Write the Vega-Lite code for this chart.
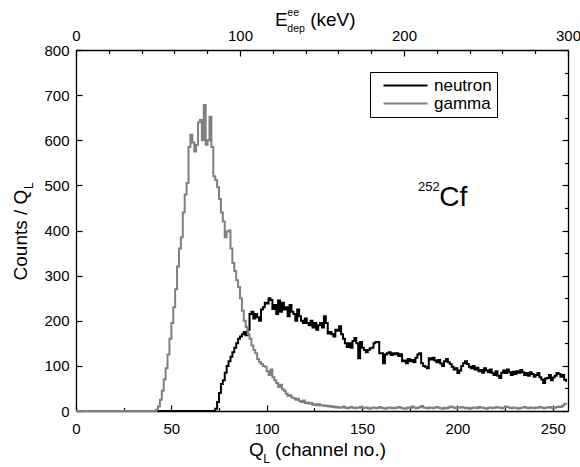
{
"$schema":"https://vega.github.io/schema/vega-lite/v6.json",
"width":492,"height":361,
"autosize":{"type":"none"},
"padding":{"left":76,"top":50,"right":12,"bottom":56},
"background":"white",
"config":{"view":{"stroke":null},"font":"Liberation Sans","axis":{"grid":false,"domainColor":"black","tickColor":"black","labelColor":"black","labelFont":"Liberation Sans","labelFontSize":15,"domainWidth":1.3,"tickWidth":1.2,"labelFlush":false,"labelOverlap":false,"title":null}},
"layer":[
{"data":{"values":[
{"ch":0,"neutron":0,"gamma":0},
{"ch":40,"neutron":0,"gamma":0},{"ch":41,"neutron":0,"gamma":0},{"ch":42,"neutron":0,"gamma":3},{"ch":43,"neutron":0,"gamma":10},{"ch":44,"neutron":0,"gamma":25},{"ch":45,"neutron":0,"gamma":45},{"ch":46,"neutron":0,"gamma":70},{"ch":47,"neutron":0,"gamma":95},{"ch":48,"neutron":0,"gamma":125},{"ch":49,"neutron":0,"gamma":160},
{"ch":50,"neutron":0,"gamma":195},{"ch":51,"neutron":0,"gamma":230},{"ch":52,"neutron":0,"gamma":270},{"ch":53,"neutron":0,"gamma":320},{"ch":54,"neutron":0,"gamma":360},{"ch":55,"neutron":0,"gamma":385},{"ch":56,"neutron":0,"gamma":440},{"ch":57,"neutron":0,"gamma":480},{"ch":58,"neutron":0,"gamma":505},{"ch":59,"neutron":0,"gamma":585},
{"ch":60,"neutron":0,"gamma":612},{"ch":61,"neutron":0,"gamma":595},{"ch":62,"neutron":0,"gamma":575},{"ch":63,"neutron":0,"gamma":590},{"ch":64,"neutron":0,"gamma":640},{"ch":65,"neutron":0,"gamma":645},{"ch":66,"neutron":0,"gamma":600},{"ch":67,"neutron":0,"gamma":678},{"ch":68,"neutron":0,"gamma":590},{"ch":69,"neutron":0,"gamma":600},
{"ch":70,"neutron":0,"gamma":652},{"ch":71,"neutron":0,"gamma":585},{"ch":72,"neutron":0,"gamma":520},{"ch":73,"neutron":5,"gamma":512},{"ch":74,"neutron":20,"gamma":496},{"ch":75,"neutron":40,"gamma":470},{"ch":76,"neutron":60,"gamma":440},{"ch":77,"neutron":68,"gamma":420},{"ch":78,"neutron":85,"gamma":385},{"ch":79,"neutron":100,"gamma":398},
{"ch":80,"neutron":110,"gamma":400},{"ch":81,"neutron":120,"gamma":360},{"ch":82,"neutron":130,"gamma":328},{"ch":83,"neutron":140,"gamma":310},{"ch":84,"neutron":150,"gamma":290},{"ch":85,"neutron":160,"gamma":275},{"ch":86,"neutron":165,"gamma":250},{"ch":87,"neutron":170,"gamma":222},{"ch":88,"neutron":175,"gamma":200},{"ch":89,"neutron":168,"gamma":186},
{"ch":90,"neutron":180,"gamma":170},{"ch":91,"neutron":215,"gamma":160},{"ch":92,"neutron":220,"gamma":145},{"ch":93,"neutron":205,"gamma":135},{"ch":94,"neutron":215,"gamma":128},{"ch":95,"neutron":208,"gamma":115},{"ch":96,"neutron":200,"gamma":108},{"ch":97,"neutron":225,"gamma":104},{"ch":98,"neutron":230,"gamma":100},{"ch":99,"neutron":240,"gamma":98},
{"ch":100,"neutron":238,"gamma":88},{"ch":101,"neutron":250,"gamma":80},{"ch":102,"neutron":246,"gamma":92},{"ch":103,"neutron":226,"gamma":75},{"ch":104,"neutron":235,"gamma":68},{"ch":105,"neutron":215,"gamma":62},{"ch":106,"neutron":245,"gamma":53},{"ch":107,"neutron":220,"gamma":58},{"ch":108,"neutron":240,"gamma":48},{"ch":109,"neutron":225,"gamma":45},
{"ch":110,"neutron":230,"gamma":38},{"ch":111,"neutron":210,"gamma":33},{"ch":112,"neutron":235,"gamma":35},{"ch":113,"neutron":220,"gamma":30},{"ch":114,"neutron":215,"gamma":28},{"ch":115,"neutron":200,"gamma":25},{"ch":116,"neutron":225,"gamma":27},{"ch":117,"neutron":210,"gamma":22},{"ch":118,"neutron":200,"gamma":20},{"ch":119,"neutron":195,"gamma":23},
{"ch":120,"neutron":205,"gamma":18},{"ch":121,"neutron":195,"gamma":19},{"ch":122,"neutron":190,"gamma":16},{"ch":123,"neutron":200,"gamma":18},{"ch":124,"neutron":185,"gamma":14},{"ch":125,"neutron":195,"gamma":15},{"ch":126,"neutron":180,"gamma":13},{"ch":127,"neutron":190,"gamma":15},{"ch":128,"neutron":195,"gamma":12},{"ch":129,"neutron":185,"gamma":13},
{"ch":130,"neutron":210,"gamma":11},{"ch":131,"neutron":195,"gamma":12},{"ch":132,"neutron":172,"gamma":10},{"ch":133,"neutron":175,"gamma":11},{"ch":134,"neutron":170,"gamma":9},{"ch":135,"neutron":165,"gamma":10},{"ch":136,"neutron":180,"gamma":8},{"ch":137,"neutron":178,"gamma":9},{"ch":138,"neutron":188,"gamma":7},{"ch":139,"neutron":170,"gamma":8},
{"ch":140,"neutron":160,"gamma":10},{"ch":141,"neutron":150,"gamma":7},{"ch":142,"neutron":142,"gamma":6},{"ch":143,"neutron":150,"gamma":8},{"ch":144,"neutron":140,"gamma":9},{"ch":145,"neutron":155,"gamma":7},{"ch":146,"neutron":162,"gamma":6},{"ch":147,"neutron":150,"gamma":8},{"ch":148,"neutron":117,"gamma":7},{"ch":149,"neutron":153,"gamma":9},
{"ch":150,"neutron":140,"gamma":6},{"ch":151,"neutron":135,"gamma":7},{"ch":152,"neutron":130,"gamma":8},{"ch":153,"neutron":135,"gamma":6},{"ch":154,"neutron":139,"gamma":5},{"ch":155,"neutron":140,"gamma":7},{"ch":156,"neutron":150,"gamma":8},{"ch":157,"neutron":153,"gamma":6},{"ch":158,"neutron":153,"gamma":7},{"ch":159,"neutron":128,"gamma":9},
{"ch":160,"neutron":128,"gamma":7},{"ch":161,"neutron":106,"gamma":6},{"ch":162,"neutron":125,"gamma":5},{"ch":163,"neutron":128,"gamma":7},{"ch":164,"neutron":130,"gamma":8},{"ch":165,"neutron":124,"gamma":6},{"ch":166,"neutron":128,"gamma":7},{"ch":167,"neutron":126,"gamma":6},{"ch":168,"neutron":128,"gamma":8},{"ch":169,"neutron":122,"gamma":9},
{"ch":170,"neutron":126,"gamma":7},{"ch":171,"neutron":110,"gamma":6},{"ch":172,"neutron":112,"gamma":5},{"ch":173,"neutron":106,"gamma":6},{"ch":174,"neutron":115,"gamma":8},{"ch":175,"neutron":110,"gamma":7},{"ch":176,"neutron":113,"gamma":10},{"ch":177,"neutron":108,"gamma":8},{"ch":178,"neutron":118,"gamma":6},{"ch":179,"neutron":125,"gamma":7},
{"ch":180,"neutron":128,"gamma":9},{"ch":181,"neutron":106,"gamma":11},{"ch":182,"neutron":100,"gamma":8},{"ch":183,"neutron":98,"gamma":7},{"ch":184,"neutron":95,"gamma":6},{"ch":185,"neutron":117,"gamma":8},{"ch":186,"neutron":114,"gamma":7},{"ch":187,"neutron":118,"gamma":6},{"ch":188,"neutron":112,"gamma":8},{"ch":189,"neutron":108,"gamma":9},
{"ch":190,"neutron":113,"gamma":7},{"ch":191,"neutron":105,"gamma":6},{"ch":192,"neutron":100,"gamma":5},{"ch":193,"neutron":110,"gamma":7},{"ch":194,"neutron":115,"gamma":6},{"ch":195,"neutron":108,"gamma":8},{"ch":196,"neutron":104,"gamma":10},{"ch":197,"neutron":98,"gamma":9},{"ch":198,"neutron":92,"gamma":7},{"ch":199,"neutron":95,"gamma":6},
{"ch":200,"neutron":84,"gamma":8},{"ch":201,"neutron":90,"gamma":7},{"ch":202,"neutron":100,"gamma":9},{"ch":203,"neutron":106,"gamma":8},{"ch":204,"neutron":110,"gamma":6},{"ch":205,"neutron":104,"gamma":7},{"ch":206,"neutron":98,"gamma":5},{"ch":207,"neutron":95,"gamma":6},{"ch":208,"neutron":100,"gamma":8},{"ch":209,"neutron":92,"gamma":7},
{"ch":210,"neutron":96,"gamma":6},{"ch":211,"neutron":88,"gamma":9},{"ch":212,"neutron":91,"gamma":8},{"ch":213,"neutron":85,"gamma":7},{"ch":214,"neutron":95,"gamma":6},{"ch":215,"neutron":90,"gamma":5},{"ch":216,"neutron":86,"gamma":7},{"ch":217,"neutron":92,"gamma":8},{"ch":218,"neutron":84,"gamma":6},{"ch":219,"neutron":80,"gamma":7},
{"ch":220,"neutron":88,"gamma":9},{"ch":221,"neutron":78,"gamma":8},{"ch":222,"neutron":73,"gamma":7},{"ch":223,"neutron":85,"gamma":6},{"ch":224,"neutron":90,"gamma":8},{"ch":225,"neutron":84,"gamma":10},{"ch":226,"neutron":92,"gamma":9},{"ch":227,"neutron":86,"gamma":7},{"ch":228,"neutron":80,"gamma":6},{"ch":229,"neutron":87,"gamma":8},
{"ch":230,"neutron":82,"gamma":7},{"ch":231,"neutron":88,"gamma":6},{"ch":232,"neutron":85,"gamma":5},{"ch":233,"neutron":91,"gamma":7},{"ch":234,"neutron":86,"gamma":8},{"ch":235,"neutron":80,"gamma":9},{"ch":236,"neutron":84,"gamma":7},{"ch":237,"neutron":78,"gamma":6},{"ch":238,"neutron":86,"gamma":8},{"ch":239,"neutron":82,"gamma":7},
{"ch":240,"neutron":76,"gamma":6},{"ch":241,"neutron":80,"gamma":8},{"ch":242,"neutron":84,"gamma":7},{"ch":243,"neutron":75,"gamma":9},{"ch":244,"neutron":70,"gamma":8},{"ch":245,"neutron":62,"gamma":6},{"ch":246,"neutron":72,"gamma":7},{"ch":247,"neutron":73,"gamma":8},{"ch":248,"neutron":80,"gamma":9},{"ch":249,"neutron":68,"gamma":7},
{"ch":250,"neutron":74,"gamma":6},{"ch":251,"neutron":78,"gamma":8},{"ch":252,"neutron":84,"gamma":9},{"ch":253,"neutron":82,"gamma":10},{"ch":254,"neutron":76,"gamma":9},{"ch":255,"neutron":80,"gamma":12},{"ch":256,"neutron":69,"gamma":16},{"ch":257,"neutron":65,"gamma":18}
]},
"layer":[
{"transform":[{"fold":["neutron","gamma"],"as":["type","counts"]}],
"mark":{"type":"line","interpolate":"step-after","strokeWidth":2},
"encoding":{
"x":{"field":"ch","type":"quantitative","scale":{"domain":[0,258],"nice":false,"zero":false},
"axis":{"orient":"bottom","title":null,"values":[0,25,50,75,100,125,150,175,200,225,250],"labelExpr":"datum.value % 50 === 0 ? datum.label : ''","tickSize":{"condition":{"test":"datum.value % 50 === 0","value":-6},"value":-3.5},"labelPadding":16}},
"y":{"field":"counts","type":"quantitative","scale":{"domain":[0,800],"nice":false},
"axis":{"orient":"left","title":null,"values":[0,50,100,150,200,250,300,350,400,450,500,550,600,650,700,750,800],"labelExpr":"datum.value % 100 === 0 ? datum.label : ''","tickSize":{"condition":{"test":"datum.value % 100 === 0","value":-6},"value":-3.5},"labelPadding":13}},
"color":{"field":"type","type":"nominal","scale":{"domain":["neutron","gamma"],"range":["#000000","#808080"]},
"legend":{"title":null,"orient":"none","legendX":294,"legendY":22,"strokeColor":"black","fillColor":"white","padding":5,"symbolType":"M-4,0H4","symbolSize":121,"symbolStrokeWidth":2,"symbolOffset":22,"labelOffset":20,"labelFontSize":17,"labelFont":"Liberation Sans","labelColor":"black","rowPadding":0}}
}},
{"data":{"values":[{}]},"mark":{"type":"text","text":"E","fontSize":19,"align":"left","baseline":"middle","font":"Liberation Sans"},"encoding":{"x":{"datum":104.4,"type":"quantitative"},"y":{"datum":867,"type":"quantitative"}}},
{"data":{"values":[{}]},"mark":{"type":"text","text":"ee","fontSize":10.5,"align":"left","baseline":"middle","font":"Liberation Sans"},"encoding":{"x":{"datum":110.8,"type":"quantitative"},"y":{"datum":882,"type":"quantitative"}}},
{"data":{"values":[{}]},"mark":{"type":"text","text":"dep","fontSize":10.5,"align":"left","baseline":"middle","font":"Liberation Sans"},"encoding":{"x":{"datum":110.8,"type":"quantitative"},"y":{"datum":846,"type":"quantitative"}}},
{"data":{"values":[{}]},"mark":{"type":"text","text":"(keV)","fontSize":19,"align":"left","baseline":"middle","font":"Liberation Sans"},"encoding":{"x":{"datum":122.8,"type":"quantitative"},"y":{"datum":867,"type":"quantitative"}}},
{"data":{"values":[{}]},"mark":{"type":"text","text":"Q","fontSize":19,"align":"left","baseline":"middle","font":"Liberation Sans"},"encoding":{"x":{"datum":90.7,"type":"quantitative"},"y":{"datum":-86,"type":"quantitative"}}},
{"data":{"values":[{}]},"mark":{"type":"text","text":"L","fontSize":12,"align":"left","baseline":"middle","font":"Liberation Sans"},"encoding":{"x":{"datum":98.2,"type":"quantitative"},"y":{"datum":-106,"type":"quantitative"}}},
{"data":{"values":[{}]},"mark":{"type":"text","text":"(channel no.)","fontSize":19,"align":"left","baseline":"middle","font":"Liberation Sans"},"encoding":{"x":{"datum":104.4,"type":"quantitative"},"y":{"datum":-86,"type":"quantitative"}}},
{"data":{"values":[{}]},"mark":{"type":"text","text":"Counts / Q","fontSize":19,"angle":270,"align":"center","baseline":"middle","font":"Liberation Sans"},"encoding":{"x":{"datum":-28.8,"type":"quantitative"},"y":{"datum":390,"type":"quantitative"}}},
{"data":{"values":[{}]},"mark":{"type":"text","text":"L","fontSize":12,"angle":270,"align":"left","baseline":"middle","font":"Liberation Sans"},"encoding":{"x":{"datum":-24.8,"type":"quantitative"},"y":{"datum":492,"type":"quantitative"}}},
{"data":{"values":[{}]},"mark":{"type":"text","text":"252","fontSize":13,"align":"left","baseline":"middle","font":"Liberation Sans"},"encoding":{"x":{"datum":179.3,"type":"quantitative"},"y":{"datum":496,"type":"quantitative"}}},
{"data":{"values":[{}]},"mark":{"type":"text","text":"Cf","fontSize":28,"align":"left","baseline":"middle","font":"Liberation Sans"},"encoding":{"x":{"datum":190.5,"type":"quantitative"},"y":{"datum":472,"type":"quantitative"}}}
]},
{"data":{"values":[{}]},
"mark":{"type":"point","opacity":0},
"encoding":{
"x":{"datum":0,"type":"quantitative","scale":{"domain":[0,300],"nice":false},
"axis":{"orient":"top","title":null,"values":[0,20,40,60,80,100,120,140,160,180,200,220,240,260,280,300],"labelExpr":"datum.value % 100 === 0 ? datum.label : ''","tickSize":{"condition":{"test":"datum.value % 100 === 0","value":-6},"value":-3.5},"labelPadding":13}},
"y":{"datum":0,"type":"quantitative","scale":{"domain":[0,800],"nice":false},
"axis":{"orient":"right","title":null,"labels":false,"values":[0,50,100,150,200,250,300,350,400,450,500,550,600,650,700,750,800],"tickSize":{"condition":{"test":"datum.value % 100 === 0","value":-6},"value":-3.5}}}
}}
],
"resolve":{"scale":{"x":"independent","y":"independent"}}
}
